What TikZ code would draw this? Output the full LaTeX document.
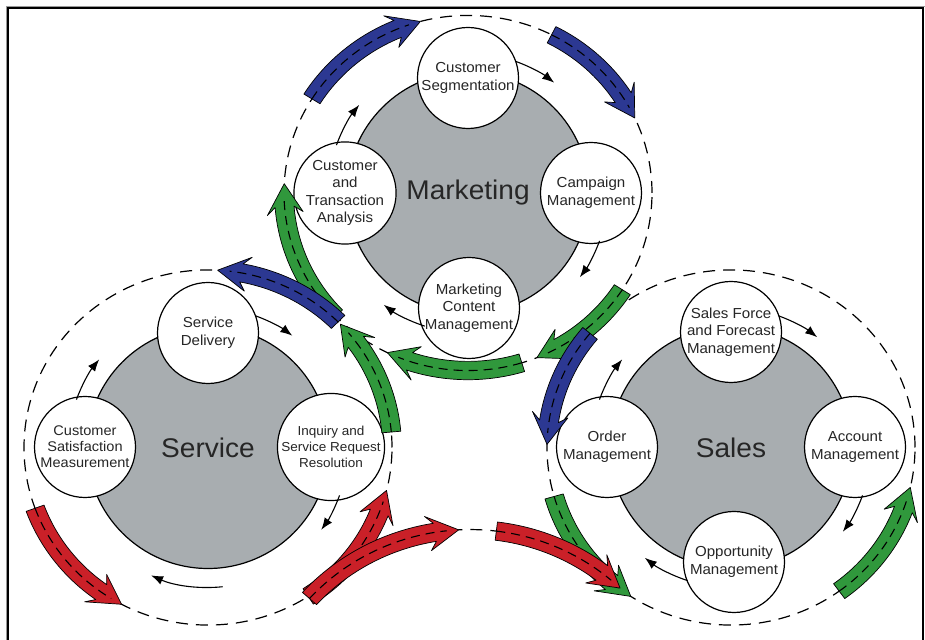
\documentclass[tikz,border=0pt]{standalone}
\usepackage{fontspec}
\setmainfont{Liberation Sans}[FakeStretch=1.04]
\usepackage{xcolor}
\usepackage{tikz}
\usetikzlibrary{arrows.meta}

\definecolor{hubgray}{RGB}{168,173,176}
\definecolor{flowblue}{RGB}{44,56,146}
\definecolor{flowgreen}{RGB}{48,152,60}
\definecolor{flowred}{RGB}{202,32,40}

% fat curved arrow: colour, centre, radius, from angle, to angle
\newcommand{\flowarc}[5]{%
  \pgfmathsetmacro{\fsign}{(#5>#4) ? 1 : -1}%
  \pgfmathsetmacro{\fbase}{#5-(\fsign)*24/#3*180/pi}%
  \pgfmathsetmacro{\fback}{#5-(\fsign)*31/#3*180/pi}%
  \pgfmathsetmacro{\fdash}{#5-(\fsign)*12/#3*180/pi}%
  \pgfmathsetmacro{\fout}{#3+9.5}%
  \pgfmathsetmacro{\fin}{#3-9.5}%
  \pgfmathsetmacro{\fwo}{#3+18}%
  \pgfmathsetmacro{\fwi}{#3-18}%
  \filldraw[shift={(#2)}, yscale=0.965, fill=#1, draw=black, line width=0.7pt, line join=round]
    (#4:\fout) arc[start angle=#4, end angle=\fbase, radius=\fout]
    -- (\fback:\fwo) -- (#5:#3) -- (\fback:\fwi) -- (\fbase:\fin)
    arc[start angle=\fbase, end angle=#4, radius=\fin] -- cycle;
  \draw[shift={(#2)}, yscale=0.965, flowdash] (#4:#3) arc[start angle=#4, end angle=\fdash, radius=#3];
}

\begin{document}
\begin{tikzpicture}[x=1pt,y=1pt,
    ring/.style={draw=black, line width=1.2pt, dash pattern=on 12pt off 8pt},
    flowdash/.style={draw=black, line width=1.1pt, dash pattern=on 9pt off 6pt},
    hub/.style={circle, draw=black, line width=1.2pt, fill=hubgray, minimum size=242pt,
                inner sep=0pt, text=black!85, font=\fontsize{27}{30}\selectfont},
    cyc/.style={-{Latex[length=12pt,width=9pt]}, line width=1.1pt}]
  \useasboundingbox (0,0) rectangle (925,639);

  % frame
  \draw[black!40, line width=1pt] (6.5,-2) -- (6.5,632.5) -- (924.5,632.5);
  \draw[line width=1.3pt] (8,-2) -- (8,631) -- (923,631) -- (923,-2);

  \coordinate (mk) at (468,446);
  \coordinate (sv) at (208,191.5);
  \coordinate (sl) at (731,191.5);
  \coordinate (br) at (470,-99);

  % dashed rings
  \draw[ring, shift={(mk)}, yscale=0.965] (0,0) circle[radius=184];
  \draw[ring, shift={(sv)}, yscale=0.965] (0,0) circle[radius=184];
  \draw[ring, shift={(sl)}, yscale=0.965] (0,0) circle[radius=184];
  \draw[ring, shift={(br)}, yscale=0.965] (138:216) arc[start angle=138, end angle=46, radius=216];

  \node[hub] (mkhub) at (mk) {Marketing};
  \node[hub] (svhub) at (sv) {Service};
  \node[hub] (slhub) at (sl) {Sales};

  \begin{scope}[every node/.style={circle, draw=black, line width=1.2pt, fill=white,
                minimum size=101pt, inner sep=0pt, align=center, text=black!85,
                font=\fontsize{14.5}{17.5}\selectfont}]
    \node (cseg) at (468,561) {Customer\\Segmentation};
    \node (camp) at (591,446) {Campaign\\Management};
    \node (mcon) at (469,331) {Marketing\\Content\\Management};
    \node (ctra) at (345,446) {Customer\\and\\Transaction\\Analysis};

    \node (sdel) at (208,306) {Service\\Delivery};
    \node[font=\fontsize{13}{16}\selectfont] (inq) at (331,192) {Inquiry and\\Service Request\\Resolution};
    \node[font=\fontsize{14}{16}\selectfont] (csat) at (85,192) {Customer\\Satisfaction\\Measurement};

    \node (sfor) at (731,307) {Sales Force\\and Forecast\\Management};
    \node (acct) at (855,192) {Account\\Management};
    \node (oppo) at (734,77) {Opportunity\\Management};
    \node (ordr) at (607,192) {Order\\Management};
  \end{scope}

  % inner cycles
  \foreach \a/\b in {70/52, -20/-37, -108/-127, 160/141}
    \draw[cyc] ([shift={(mk)}]\a:140) arc[start angle=\a, end angle=\b, radius=140];
  \foreach \a/\b in {70/53, -20/-36, -84/-114, 160/141}
    \draw[cyc] ([shift={(sv)}]\a:140) arc[start angle=\a, end angle=\b, radius=140];
  \foreach \a/\b in {70/52, -20/-37, -108/-128, 160/141}
    \draw[cyc] ([shift={(sl)}]\a:140) arc[start angle=\a, end angle=\b, radius=140];

  % green flows
  \flowarc{flowgreen}{mk}{184}{224}{177}
  \flowarc{flowgreen}{mk}{184}{-33}{-68}
  \flowarc{flowgreen}{mk}{184}{-73}{-116}
  \flowarc{flowgreen}{sv}{184}{5}{44}
  \flowarc{flowgreen}{sl}{184}{196}{237}
  \flowarc{flowgreen}{sl}{184}{-54}{-13}
  % red flows
  \flowarc{flowred}{sv}{184}{200}{242}
  \flowarc{flowred}{sv}{184}{-57}{-14}
  \flowarc{flowred}{br}{216}{138}{93}
  \flowarc{flowred}{br}{216}{83}{46}
  % blue flows
  \flowarc{flowblue}{mk}{184}{148}{105}
  \flowarc{flowblue}{mk}{184}{63}{25}
  \flowarc{flowblue}{sv}{184}{45}{87}
  \flowarc{flowblue}{sl}{184}{140}{179}
\end{tikzpicture}
\end{document}
